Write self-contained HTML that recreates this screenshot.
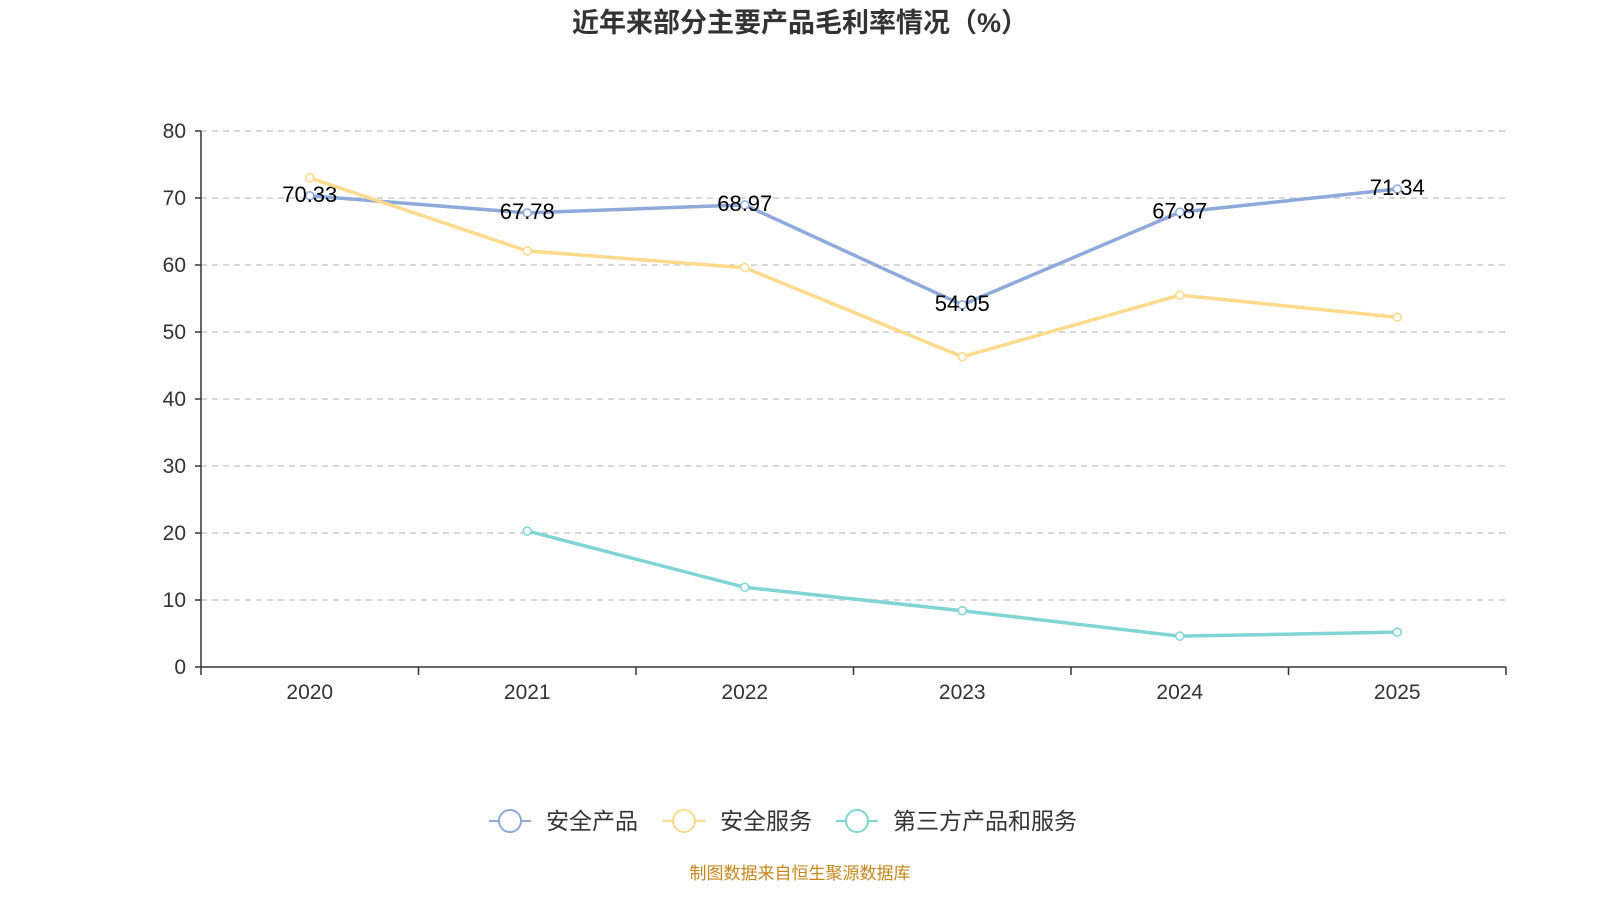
<!DOCTYPE html>
<html><head><meta charset="utf-8">
<style>
body{margin:0;background:#fff;}
svg text{font-family:"Liberation Sans","Noto Sans CJK SC",sans-serif;}
</style></head>
<body>
<svg id="chart" width="1600" height="900" xmlns="http://www.w3.org/2000/svg">
<text x="800" y="32" text-anchor="middle" font-size="27" font-weight="bold" fill="#333">近年来部分主要产品毛利率情况（%）</text>
<g id="grid"></g>
<g id="axes"></g>
<g id="series"></g>
<g id="legend"></g>
<text x="800" y="879" text-anchor="middle" font-size="17" fill="#c8861a">制图数据来自恒生聚源数据库</text>
</svg>
<script>
const categories=["2020","2021","2022","2023","2024","2025"];
const yTicks=[0,10,20,30,40,50,60,70,80];
const seriesNames=["安全产品","安全服务","第三方产品和服务"];
const productValues=[70.33,67.78,68.97,54.05,67.87,71.34];
const serviceValues=[73.0,62.1,59.6,46.3,55.5,52.2];
const thirdPartyValues=[null,20.3,11.9,8.4,4.6,5.2];
const colors=["#8eaadb","#ffd98c","#80d4d4"];
const NS="http://www.w3.org/2000/svg";
const x0=201,x1=1506,y0=667,y1=131,ymax=80;
const band=(x1-x0)/categories.length;
const xS=i=>x0+band*(i+0.5);
const yS=v=>y0-(v/ymax)*(y0-y1);
function mk(tag,attrs,parent){const e=document.createElementNS(NS,tag);for(const k in attrs)e.setAttribute(k,attrs[k]);parent.appendChild(e);return e;}
const grid=document.getElementById('grid'),axes=document.getElementById('axes'),ser=document.getElementById('series'),leg=document.getElementById('legend');
yTicks.forEach(t=>{
  if(t>0){const l=mk('line',{x1:x0,x2:x1,y1:yS(t),y2:yS(t),stroke:'#ccc','stroke-width':1.5,'stroke-dasharray':'6,5'},grid);
  
  }
  const tx=mk('text',{x:186,y:yS(t)+7,'text-anchor':'end','font-size':21,fill:'#333'},axes);tx.textContent=t;
  
  
  const tk=mk('line',{x1:195,x2:x0,y1:yS(t),y2:yS(t),stroke:'#333','stroke-width':1.5},axes);
  
  
});
const ya=mk('line',{x1:x0,x2:x0,y1:y1,y2:y0,stroke:'#333','stroke-width':1.5},axes);


const xa=mk('line',{x1:x0,x2:x1,y1:y0,y2:y0,stroke:'#333','stroke-width':1.5},axes);


for(let i=0;i<=categories.length;i++){const tk=mk('line',{x1:x0+band*i,x2:x0+band*i,y1:y0,y2:y0+8,stroke:'#333','stroke-width':1.5},axes);

}
categories.forEach((c,i)=>{const t=mk('text',{x:xS(i),y:699,'text-anchor':'middle','font-size':21,fill:'#333'},axes);t.textContent=c;

});
[productValues,serviceValues,thirdPartyValues].forEach((vals,si)=>{
  let d='';vals.forEach((v,i)=>{if(v==null)return;d+=(d?'L':'M')+xS(i)+','+yS(v);});
  const p=mk('path',{d:d,fill:'none',stroke:colors[si],'stroke-width':3.5},ser);
  
  
  vals.forEach((v,i)=>{if(v==null)return;
    const c=mk('circle',{cx:xS(i),cy:yS(v),r:4,fill:'#fff',stroke:colors[si],'stroke-width':1.5},ser);
    
    
    if(si===0){const t=mk('text',{x:xS(i),y:yS(v)+6,'text-anchor':'middle','font-size':22,fill:'#000'},ser);t.textContent=v.toFixed(2);
    
    }
  });
});
const legX=[489,663,836];
seriesNames.forEach((n,i)=>{
  const g=mk('g',{},leg);
  
  
  mk('line',{x1:legX[i],x2:legX[i]+42,y1:821,y2:821,stroke:colors[i],'stroke-width':2},g);
  mk('circle',{cx:legX[i]+21,cy:821,r:11,fill:'#fff',stroke:colors[i],'stroke-width':2},g);
  const t=mk('text',{x:legX[i]+57,y:829,'font-size':23,fill:'#333'},g);t.textContent=n;
});
</script>
</body></html>
